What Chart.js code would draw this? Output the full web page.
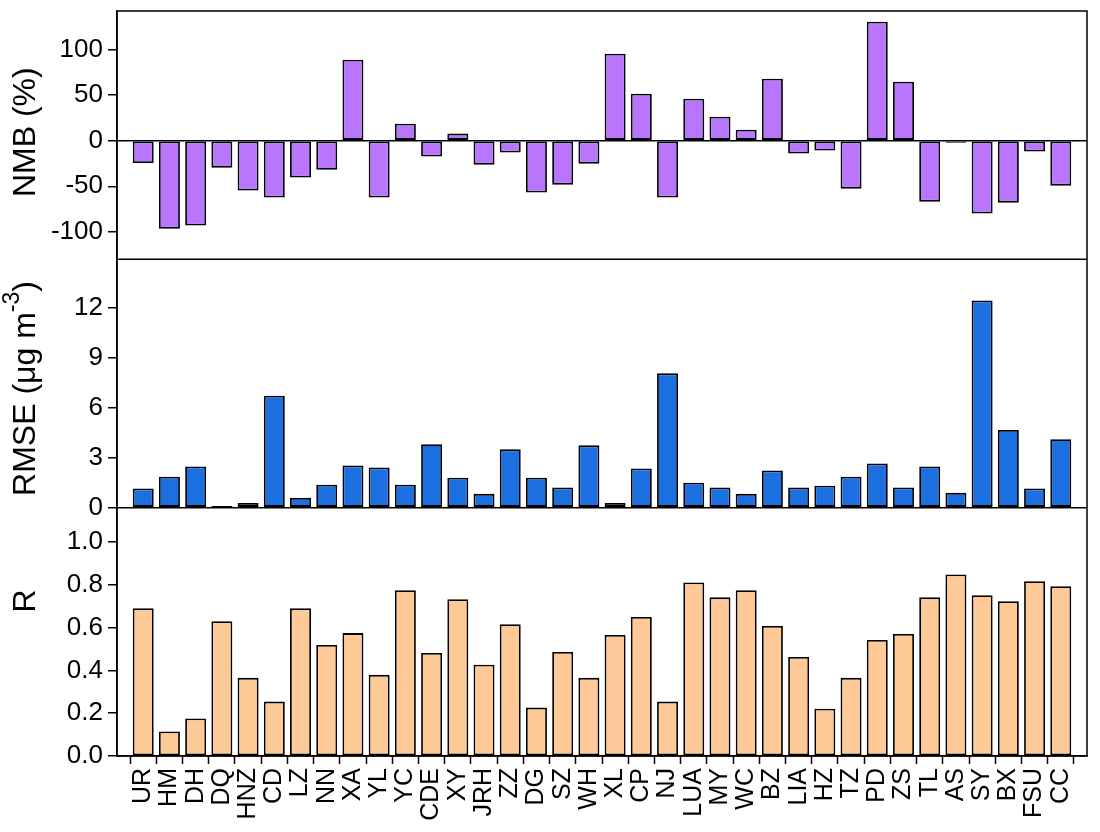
<!DOCTYPE html>
<html>
<head>
<meta charset="utf-8">
<script src="https://cdn.jsdelivr.net/npm/chart.js@4.4.1/dist/chart.umd.min.js"></script>
<style>
  html, body { margin: 0; padding: 0; background: #fff; }
  #c { display: block; }
</style>
</head>
<body>
<canvas id="c" width="1100" height="832"></canvas>
<script>
const categories = ['UR','HM','DH','DQ','HNZ','CD','LZ','NN','XA','YL','YC','CDE','XY','JRH','ZZ','DG','SZ','WH',
                    'XL','CP','NJ','LUA','MY','WC','BZ','LIA','HZ','TZ','PD','ZS','TL','AS','SY','BX','FSU','CC'];
const nmb  = [-24.5,-96.4,-93,-29.6,-54.7,-62.4,-40.5,-31.8,88.7,-62.4,18.6,-17.5,7.7,-26.3,-13.1,-56.9,-48.2,-25.2,
              95.3,51.5,-62.4,46,26.3,12,67.9,-14.2,-10.9,-52.6,130.3,64.6,-66.8,-2.2,-79.9,-67.9,-12,-49.3];
const rmse = [1.15,1.86,2.47,0.1,0.28,6.72,0.59,1.38,2.53,2.41,1.38,3.81,1.8,0.83,3.5,1.8,1.21,3.74,
              0.28,2.35,8.06,1.5,1.21,0.83,2.23,1.21,1.32,1.86,2.65,1.21,2.47,0.89,12.43,4.66,1.15,4.11];
const rVals = [0.690,0.115,0.175,0.630,0.365,0.254,0.690,0.519,0.574,0.379,0.774,0.481,0.732,0.426,0.616,0.226,0.486,0.365,
               0.565,0.649,0.254,0.811,0.741,0.774,0.607,0.463,0.221,0.365,0.542,0.570,0.741,0.848,0.751,0.723,0.816,0.793];
const nmbTicks  = [-100, -50, 0, 50, 100];
const rmseTicks = [0, 3, 6, 9, 12];
const rTicks    = [0, 0.2, 0.4, 0.6, 0.8, 1.0];

const FONT = '"Liberation Sans", Arial, sans-serif';
const pad = arr => [null, ...arr, null];
const labels = ['', ...categories, ''];

function yAxis(min, max, ticks, fmt, weight, zeroLine) {
  return {
    type: 'linear', position: 'left', stack: 'panels', stackWeight: 1, weight: weight,
    min: min, max: max,
    afterBuildTicks: s => { s.ticks = ticks.map(v => ({ value: v })); },
    afterFit: s => { s.width = 117; s.paddingTop = 0; s.paddingBottom = 0; },
    border: { display: true, color: '#000', width: 1.5 },
    grid: {
      drawOnChartArea: zeroLine, drawTicks: true, tickLength: 9, tickWidth: 1.5, tickColor: '#000',
      lineWidth: 1.5,
      color: c => (zeroLine && c.tick && c.tick.value === 0) ? '#000' : 'rgba(0,0,0,0)'
    },
    ticks: { color: '#000', padding: 5, autoSkip: false, font: { family: FONT, size: 26 }, callback: fmt }
  };
}

const framePlugin = {
  id: 'frame',
  afterDatasetsDraw(chart) {
    const { ctx, chartArea: a, scales } = chart;
    ctx.save();
    ctx.strokeStyle = '#000';
    ctx.lineWidth = 1.5;
    ctx.strokeRect(a.left, a.top, a.right - a.left, a.bottom - a.top);
    ['y1', 'y2'].forEach(id => {
      const b = scales[id].bottom;
      ctx.beginPath(); ctx.moveTo(a.left, b); ctx.lineTo(a.right, b); ctx.stroke();
    });
    ctx.restore();
  },
  afterDraw(chart) {
    const { ctx, scales } = chart;
    const titles = [
      { id: 'y1', parts: [['NMB (%)', 32, 0]], shift: -3 },
      { id: 'y2', parts: [['RMSE (μg m', 32, 0], ['-3', 23, -13], [')', 32, 0]], shift: 5 },
      { id: 'y3', parts: [['R', 32, 0]], shift: -31 }
    ];
    ctx.save();
    ctx.fillStyle = '#000';
    ctx.textBaseline = 'middle';
    ctx.textAlign = 'left';
    titles.forEach(t => {
      const s = scales[t.id];
      const cy = (s.top + s.bottom) / 2 + t.shift;
      let total = 0;
      const widths = t.parts.map(p => { ctx.font = p[1] + 'px ' + FONT; const w = ctx.measureText(p[0]).width; total += w; return w; });
      ctx.save();
      ctx.translate(26, cy);
      ctx.rotate(-Math.PI / 2);
      let x = -total / 2;
      t.parts.forEach((p, i) => {
        ctx.font = p[1] + 'px ' + FONT;
        ctx.fillText(p[0], x, p[2]);
        x += widths[i];
      });
      ctx.restore();
    });
    ctx.restore();
  }
};

const barStyle = { borderColor: '#000', borderWidth: 1.8, borderSkipped: false, grouped: false,
                   barPercentage: 0.8, categoryPercentage: 1.0 };

new Chart(document.getElementById('c'), {
  type: 'bar',
  data: {
    labels: labels,
    datasets: [
      Object.assign({ label: 'NMB', data: pad(nmb), yAxisID: 'y1', backgroundColor: '#B975FC' }, barStyle),
      Object.assign({ label: 'RMSE', data: pad(rmse), yAxisID: 'y2', backgroundColor: '#1C6FDF' }, barStyle),
      Object.assign({ label: 'R', data: pad(rVals), yAxisID: 'y3', backgroundColor: '#FCC997' }, barStyle)
    ]
  },
  options: {
    responsive: false,
    animation: false,
    devicePixelRatio: 1,
    layout: { padding: { top: 11, right: 13, left: 0, bottom: 0 } },
    plugins: { legend: { display: false }, tooltip: { enabled: false } },
    scales: {
      x: {
        type: 'category', offset: false,
        afterFit: s => { s.height = 76; s.paddingLeft = 0; s.paddingRight = 0; },
        border: { display: true, color: '#000', width: 1.5 },
        grid: { drawOnChartArea: false, drawTicks: true, tickLength: 8, tickWidth: 1.5, tickColor: '#000', color: '#000' },
        ticks: { color: '#000', autoSkip: false, maxRotation: 90, minRotation: 90, padding: 4,
                 font: { family: FONT, size: 25 } }
      },
      y1: yAxis(-130, 142, nmbTicks, v => String(v), 3, true),
      y2: yAxis(0, 14.9, rmseTicks, v => String(v), 2, false),
      y3: yAxis(0, 1.16, rTicks, v => v.toFixed(1), 1, false)
    }
  },
  plugins: [framePlugin]
});
</script>
</body>
</html>
